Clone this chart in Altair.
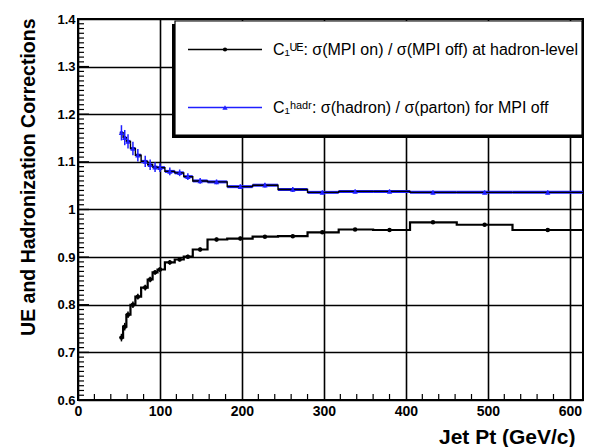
import altair as alt
import pandas as pd

# ---- data ----
pt_edges = [51, 55, 59, 64, 70, 77, 85, 91, 97, 106, 118, 129, 140, 158, 182,
            213, 244, 280, 318, 360, 405, 462, 530, 616]
pt_centers = [53, 57, 61, 67, 73, 82, 88, 94, 100, 112, 124, 134, 149, 169,
              198, 228, 262, 298, 338, 380, 433, 496, 573]
hadr_vals = [1.161, 1.151, 1.143, 1.128, 1.114, 1.101, 1.094, 1.089, 1.088,
             1.080, 1.077, 1.069, 1.060, 1.058, 1.048, 1.051, 1.042, 1.036,
             1.038, 1.038, 1.036, 1.036, 1.036]
hadr_errs = [0.016, 0.016, 0.015, 0.014, 0.013, 0.012, 0.011, 0.010, 0.009,
             0.008, 0.007, 0.007, 0.006, 0.005, 0.005, 0.005, 0.005, 0.004,
             0.004, 0.004, 0.004, 0.004, 0.004]
ue_vals = [0.731, 0.754, 0.779, 0.800, 0.817, 0.836, 0.853, 0.868, 0.874,
           0.889, 0.895, 0.901, 0.916, 0.937, 0.939, 0.943, 0.944, 0.952,
           0.958, 0.957, 0.973, 0.968, 0.957]
ue_errs = [0.008, 0.008, 0.007, 0.007, 0.006, 0.006, 0.006, 0.005, 0.005,
           0.005, 0.004, 0.004, 0.004, 0.004, 0.004, 0.003, 0.003, 0.003,
           0.003, 0.003, 0.003, 0.003, 0.003]

x_ticks = [0, 100, 200, 300, 400, 500, 600]
y_ticks = [0.6, 0.7, 0.8, 0.9, 1.0, 1.1, 1.2, 1.3, 1.4]
x_min, x_max = 0, 616
y_min, y_max = 0.6, 1.4

legend_ue = "C\u2081\u1D41\u1D31: \u03C3(MPI on) / \u03C3(MPI off) at hadron-level"
legend_hadr = "C\u2081\u02B0\u1D43\u1D48\u02B3: \u03C3(hadron) / \u03C3(parton) for MPI off"

BLUE = "#1f1fff"
W, H = 505, 381

pts = pd.DataFrame({
    "pt": pt_centers,
    "lo": pt_edges[:-1],
    "hi": pt_edges[1:],
    "hadr": hadr_vals,
    "hadr_lo": [v - e for v, e in zip(hadr_vals, hadr_errs)],
    "hadr_hi": [v + e for v, e in zip(hadr_vals, hadr_errs)],
    "ue": ue_vals,
    "ue_lo": [v - e for v, e in zip(ue_vals, ue_errs)],
    "ue_hi": [v + e for v, e in zip(ue_vals, ue_errs)],
})

steps = pd.DataFrame({
    "edge": pt_edges,
    "hadr": hadr_vals + [hadr_vals[-1]],
    "ue": ue_vals + [ue_vals[-1]],
})

xs = alt.Scale(domain=[x_min, x_max], nice=False, zero=False)
ys = alt.Scale(domain=[y_min, y_max], nice=False, zero=False)

x_axis = alt.Axis(values=x_ticks, grid=True, gridColor="black", gridWidth=1.6,
                  gridOpacity=1, ticks=False, domain=False, labelFont="Liberation Sans",
                  labelFontWeight="bold", labelFontSize=14, labelColor="black",
                  labelPadding=4, title="Jet Pt (GeV/c)",
                  titleFont="Liberation Sans", titleFontWeight="bold",
                  titleFontSize=21, titleColor="black",
                  titleX=W - 8, titleY=43, titleAlign="right", titleBaseline="alphabetic",
                  labelFlush=False)
y_axis = alt.Axis(values=y_ticks, grid=True, gridColor="black", gridWidth=1.6,
                  gridOpacity=1, ticks=False, domain=False, labelFont="Liberation Sans",
                  labelFontWeight="bold", labelFontSize=13, labelColor="black",
                  labelPadding=3,
                  labelExpr="datum.value == 1 ? '1' : format(datum.value, '.1f')",
                  title="UE and Hadronization Corrections",
                  titleFont="Liberation Sans", titleFontWeight="bold",
                  titleFontSize=19.5, titleColor="black",
                  titleX=-44, titleY=-1, titleAlign="right", titleAngle=-90,
                  titleBaseline="alphabetic",
                  labelFlush=False)

base = alt.Chart(pts)

frame = alt.Chart(pd.DataFrame({"pt": [0], "v": [1.0]})).mark_point(opacity=0).encode(
    x=alt.X("pt:Q", scale=xs, axis=x_axis),
    y=alt.Y("v:Q", scale=ys, axis=y_axis),
)

# inner ticks (ROOT style)
ytick_df = pd.DataFrame({"v": [round(0.6 + 0.01 * i, 2) for i in range(81)],
                         "major": [(i % 10 == 0) for i in range(81)]})
ytick_minor = alt.Chart(ytick_df[~ytick_df["major"]]).mark_rule(color="black", strokeWidth=1.2).encode(
    y=alt.Y("v:Q", scale=ys), x=alt.value(0), x2=alt.value(6))
ytick_major = alt.Chart(ytick_df[ytick_df["major"]]).mark_rule(color="black", strokeWidth=1.4).encode(
    y=alt.Y("v:Q", scale=ys), x=alt.value(0), x2=alt.value(11))
xtick_df = pd.DataFrame({"v": [20 * i for i in range(31) if (20 * i) % 100 != 0]})
xtick_minor = alt.Chart(xtick_df).mark_rule(color="black", strokeWidth=1.2).encode(
    x=alt.X("v:Q", scale=xs), y=alt.value(H), y2=alt.value(H - 6))

# hadronization series
hadr_xbar = base.mark_rule(color=BLUE, strokeWidth=3).encode(
    x=alt.X("lo:Q", scale=xs), x2="hi:Q", y=alt.Y("hadr:Q", scale=ys))
hadr_step = alt.Chart(steps).mark_line(interpolate="step-after", color="black", strokeWidth=1.4).encode(
    x=alt.X("edge:Q", scale=xs), y=alt.Y("hadr:Q", scale=ys))
hadr_ybar = base.mark_rule(color=BLUE, strokeWidth=1.5).encode(
    x=alt.X("pt:Q", scale=xs), y=alt.Y("hadr_lo:Q", scale=ys), y2="hadr_hi:Q")
hadr_pts = base.mark_point(shape="triangle-up", filled=True, color=BLUE, size=28, opacity=1).encode(
    x=alt.X("pt:Q", scale=xs), y=alt.Y("hadr:Q", scale=ys))

# UE series
ue_step = alt.Chart(steps).mark_line(interpolate="step-after", color="black", strokeWidth=2.2).encode(
    x=alt.X("edge:Q", scale=xs), y=alt.Y("ue:Q", scale=ys))
ue_ybar = base.mark_rule(color="black", strokeWidth=1.5).encode(
    x=alt.X("pt:Q", scale=xs), y=alt.Y("ue_lo:Q", scale=ys), y2="ue_hi:Q")
ue_pts = base.mark_point(shape="circle", filled=True, color="black", size=20, opacity=1).encode(
    x=alt.X("pt:Q", scale=xs), y=alt.Y("ue:Q", scale=ys))

# legend box (decoration, pixel placed)
one = pd.DataFrame({"k": [0]})
leg_shadow = alt.Chart(one).mark_rect(color="black").encode(
    x=alt.value(94), x2=alt.value(W - 1), y=alt.value(5), y2=alt.value(119))
leg_box = alt.Chart(one).mark_rect(fill="white", stroke="black", strokeWidth=1.2).encode(
    x=alt.value(97), x2=alt.value(W - 1), y=alt.value(2), y2=alt.value(116))

def legend_row(ypix, color, shape, size, label):
    line = alt.Chart(one).mark_rule(strokeWidth=1.5, color=color).encode(
        x=alt.value(110), x2=alt.value(184), y=alt.value(ypix))
    mark = alt.Chart(one).mark_point(filled=True, opacity=1, size=size, color=color,
                                     shape=shape).encode(x=alt.value(147), y=alt.value(ypix))
    txt = alt.Chart(one).mark_text(align="left", baseline="middle", font="Liberation Sans",
                                   fontSize=16, color="black", text=label).encode(
        x=alt.value(195), y=alt.value(ypix))
    return [line, mark, txt]

legend_layers = legend_row(30.5, "black", "circle", 18, legend_ue) + \
    legend_row(88.5, BLUE, "triangle-up", 28, legend_hadr)

chart = alt.layer(
    frame, ytick_minor, ytick_major, xtick_minor,
    hadr_xbar, hadr_step, hadr_ybar, hadr_pts,
    ue_step, ue_ybar, ue_pts,
    leg_shadow, leg_box, *legend_layers,
).properties(
    width=W, height=H,
    autosize=alt.AutoSizeParams(type="none"),
    padding={"left": 78, "top": 19, "right": 9, "bottom": 47},
    background="white",
).configure_view(stroke="black", strokeWidth=2)

chart.save("out.html", embed_options={"renderer": "svg", "actions": False})
